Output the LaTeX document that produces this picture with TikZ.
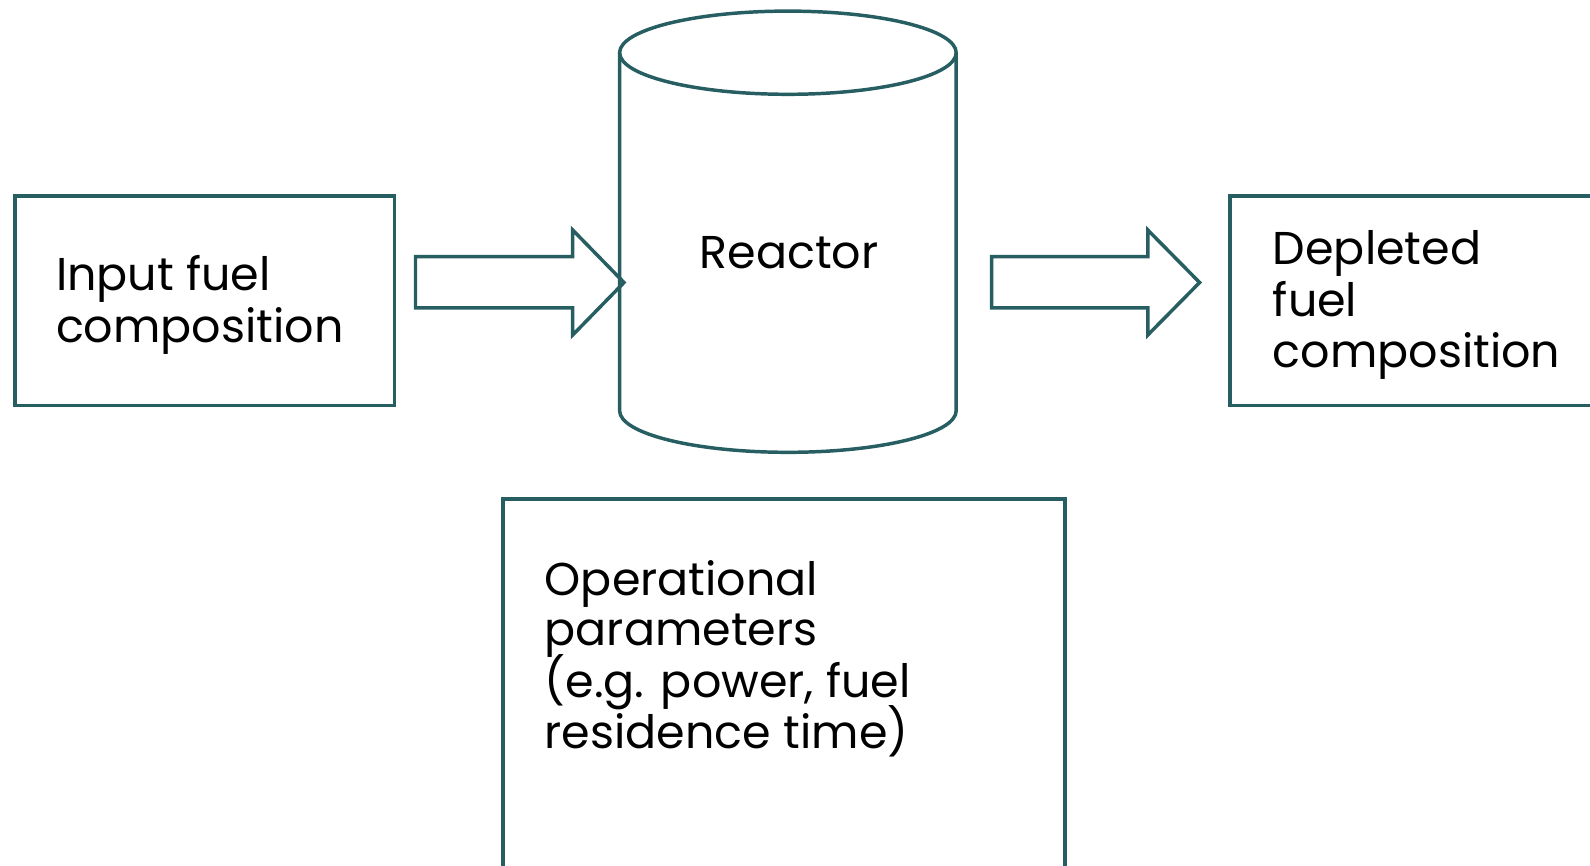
\documentclass[tikz,border=0pt]{standalone}
\usepackage{fontspec}
\setmainfont{Poppins}
\usetikzlibrary{positioning}
\definecolor{darkteal}{RGB}{38,94,98}

\tikzset{
  outline/.style={draw=darkteal, line width=2.6pt, line join=miter},
  txt/.style={anchor=base west, inner sep=0pt, font=\fontsize{34.5}{38}\selectfont},
}

\begin{document}
\begin{tikzpicture}[x=0.75pt, y=-0.75pt]
    \useasboundingbox (0,0) rectangle (1590,865);
    \clip (0,0) rectangle (1590,865);

    % boxes
    \draw [outline] (15,196) rectangle (394.5,405.5);
    \draw [outline] (1230,196) rectangle (1640,405.5);
    \draw [outline] (503,499) rectangle (1065,920);

    % reactor
    \draw [outline] (619.6,52.7) -- (619.6,410.7)
        arc [start angle=180, end angle=0, x radius=168.3, y radius=41.6]
        -- (956.2,52.7);
    \draw [outline] (787.9,52.7) ellipse [x radius=168.3, y radius=41.6];

    % block arrows
    \draw [outline] (415.5,256.7) -- (572.7,256.7) -- (572.7,230) -- (624,282.5)
        -- (572.7,335) -- (572.7,307.8) -- (415.5,307.8) -- cycle;
    \draw [outline] (991.7,256.7) -- (1147.8,256.7) -- (1147.8,230) -- (1199.6,282.5)
        -- (1147.8,335) -- (1147.8,307.8) -- (991.7,307.8) -- cycle;

    \node [txt] (in1) at (55.8,290) {Input fuel};
    \node [txt] (in2) at (55.8,342) {composition};
    \node [txt, anchor=base] (reac) at (789,268) {Reactor};
    \node [txt] (out1) at (1272.6,264.7) {Depleted};
    \node [txt] (out2) at (1272.6,316.4) {fuel};
    \node [txt] (out3) at (1272.6,367.5) {composition};
    \node [txt] (op1) at (544.5,595) {Operational};
    \node [txt] (op2) at (544.5,645.5) {parameters};
    \node [txt] (op3) at (544.5,697) {(e.g. power, fuel};
    \node [txt] (op4) at (544.5,748) {residence time)};
\end{tikzpicture}
\end{document}
